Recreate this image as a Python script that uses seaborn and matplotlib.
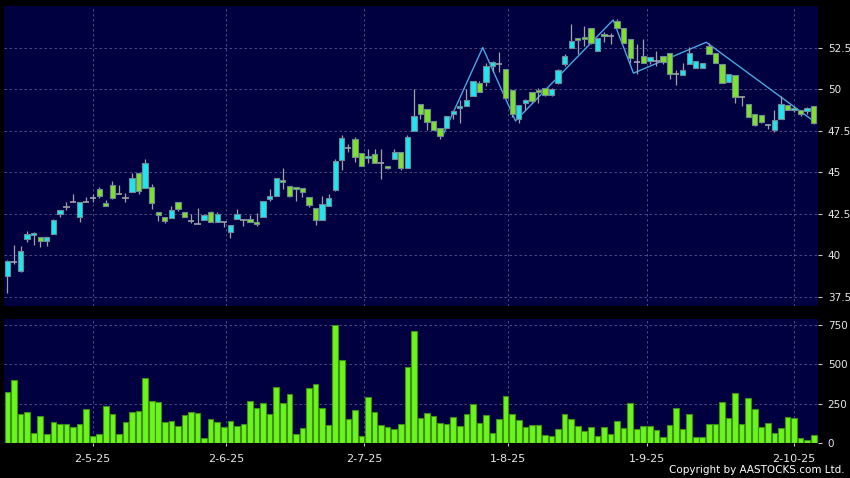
import numpy as np
import matplotlib
matplotlib.use("Agg")
import matplotlib.pyplot as plt
import seaborn as sns

# daily candles (index 0 = first session shown)
opens = [38.78, 39.62, 39.04, 41.00, 41.20, 41.08, 40.84, 41.30, 42.52, 42.92,
         43.22, 42.34, 43.22, 43.48, 44.02, 43.14, 44.22, 43.72, 43.44, 43.82,
         44.98, 44.06, 44.14, 42.64, 42.34, 42.26, 43.24, 42.64, 42.10, 41.92,
         42.12, 42.64, 42.02, 42.04, 41.42, 42.18, 42.12, 42.22, 42.04, 42.30,
         43.40, 43.58, 44.56, 44.20, 44.10, 44.06, 43.54, 42.88, 42.12, 43.00,
         43.96, 45.76, 46.48, 46.98, 46.16, 45.86, 46.10, 45.56, 45.36, 45.80,
         46.24, 45.28, 47.50, 49.12, 48.80, 48.08, 47.68, 47.68, 48.52, 48.86,
         49.00, 49.60, 50.38, 50.44, 51.42, 51.52, 51.22, 49.92, 48.18, 49.18,
         49.82, 49.92, 50.06, 49.66, 50.38, 51.52, 52.48, 53.06, 53.14, 53.68,
         52.32, 53.30, 53.22, 54.12, 53.66, 53.02, 51.62, 51.98, 51.68, 51.68,
         51.98, 52.18, 50.92, 50.88, 51.52, 51.28, 51.28, 52.62, 52.18, 51.52,
         50.42, 50.86, 49.52, 49.12, 48.52, 48.46, 47.82, 47.52, 48.22, 49.02,
         48.72, 48.72, 48.68, 48.98]
highs = [39.70, 40.60, 40.56, 41.46, 41.38, 41.10, 41.10, 42.18, 42.76, 43.22,
         43.68, 43.22, 43.50, 43.70, 44.10, 43.36, 44.46, 44.22, 43.78, 44.96,
         44.98, 45.82, 44.28, 42.64, 42.34, 42.96, 43.24, 42.64, 42.50, 42.84,
         42.52, 42.70, 42.60, 42.04, 41.86, 42.82, 42.22, 42.44, 42.58, 43.26,
         44.02, 44.68, 45.28, 44.20, 44.10, 44.06, 43.54, 42.88, 43.60, 43.70,
         45.80, 47.26, 46.72, 47.10, 46.16, 46.38, 46.38, 46.40, 45.36, 46.42,
         46.24, 47.26, 50.00, 49.12, 48.80, 48.08, 47.68, 48.40, 48.70, 49.32,
         50.02, 50.50, 50.50, 51.60, 51.70, 52.22, 51.22, 49.92, 49.06, 49.40,
         49.82, 50.08, 50.06, 50.04, 51.20, 52.10, 53.92, 53.10, 53.82, 53.68,
         53.10, 53.46, 53.40, 54.20, 53.66, 53.02, 52.72, 53.02, 51.92, 52.32,
         51.98, 52.18, 51.16, 51.56, 52.56, 51.70, 51.60, 52.76, 52.18, 51.52,
         50.92, 50.86, 49.60, 49.12, 48.52, 48.46, 47.92, 48.72, 49.60, 49.02,
         49.00, 48.72, 48.90, 48.98]
lows = [37.76, 39.50, 39.00, 40.82, 40.65, 40.52, 40.56, 41.30, 42.32, 42.72,
        43.22, 42.02, 43.22, 43.20, 43.48, 42.98, 43.40, 43.72, 43.20, 43.82,
        43.72, 44.06, 42.80, 42.08, 41.96, 42.26, 42.70, 42.32, 41.96, 41.92,
        42.12, 42.00, 42.02, 41.70, 41.02, 42.18, 41.76, 42.04, 41.80, 42.30,
        43.30, 43.58, 43.98, 43.50, 43.26, 43.54, 42.90, 41.86, 42.12, 43.00,
        43.90, 45.16, 46.22, 45.62, 45.40, 45.58, 45.56, 44.60, 45.20, 45.80,
        45.12, 45.28, 47.50, 48.20, 47.52, 47.52, 47.00, 47.68, 48.22, 47.96,
        49.00, 49.60, 49.80, 50.20, 51.02, 51.02, 49.48, 48.30, 47.95, 48.72,
        49.16, 49.16, 49.60, 49.56, 50.30, 51.40, 52.48, 52.12, 52.60, 52.70,
        52.32, 52.82, 52.72, 53.68, 52.78, 51.60, 50.92, 51.58, 51.50, 51.42,
        51.50, 50.62, 50.26, 50.88, 51.52, 51.28, 51.28, 52.12, 51.58, 50.38,
        50.42, 49.18, 49.00, 48.32, 47.80, 47.96, 47.60, 47.42, 48.22, 48.72,
        48.60, 48.40, 48.50, 47.90]
closes = [39.66, 39.60, 40.24, 41.26, 41.32, 40.84, 41.08, 42.12, 42.76, 42.92,
          43.22, 43.22, 43.22, 43.48, 43.58, 42.98, 43.46, 43.72, 43.44, 44.68,
          43.88, 45.58, 43.16, 42.44, 42.10, 42.72, 42.80, 42.32, 42.10, 41.92,
          42.46, 42.02, 42.52, 42.04, 41.86, 42.52, 42.12, 42.04, 41.90, 43.26,
          43.60, 44.68, 44.42, 43.60, 44.00, 43.84, 43.04, 42.12, 43.12, 43.44,
          45.66, 47.08, 46.48, 45.94, 45.40, 46.00, 45.56, 45.56, 45.26, 46.24,
          45.28, 47.12, 48.36, 48.50, 48.04, 47.52, 47.20, 48.40, 48.66, 48.96,
          49.36, 50.48, 49.80, 51.42, 51.62, 51.52, 49.48, 48.52, 49.06, 49.36,
          49.30, 49.80, 49.66, 50.02, 51.18, 52.02, 52.88, 52.96, 53.04, 52.78,
          53.08, 53.20, 53.22, 53.68, 52.78, 51.88, 51.62, 51.58, 51.92, 51.68,
          51.62, 50.92, 50.92, 51.16, 52.20, 51.68, 51.60, 52.12, 51.58, 50.38,
          50.92, 49.52, 49.52, 48.32, 47.86, 48.02, 47.82, 48.16, 49.08, 48.72,
          48.88, 48.52, 48.84, 47.98]
volume = [325, 404, 184, 199, 65, 171, 61, 135, 120, 120,
          106, 120, 218, 49, 61, 237, 186, 61, 135, 197,
          207, 414, 266, 260, 135, 144, 110, 177, 197, 194,
          36, 156, 137, 106, 142, 110, 120, 270, 222, 256,
          186, 359, 254, 313, 59, 97, 351, 378, 222, 116,
          750, 528, 156, 211, 49, 296, 201, 116, 104, 89,
          123, 482, 712, 163, 190, 173, 131, 123, 165, 110,
          184, 249, 131, 177, 63, 152, 302, 186, 148, 106,
          116, 116, 55, 46, 93, 184, 156, 110, 78, 106,
          49, 106, 57, 142, 99, 254, 91, 112, 112, 85,
          42, 116, 224, 93, 184, 42, 42, 120, 125, 264,
          163, 319, 120, 287, 216, 106, 131, 68, 97, 169,
          163, 32, 21, 51]

# zigzag turning points (session index, price)
zz_idx = [66.5, 72.5, 77.5, 92.4, 95.5, 106.6, 123.2]
zz_price = [47.3, 52.5, 48.09, 54.16, 50.96, 52.82, 48.02]

date_pos = [13, 33.3, 54.4, 76.4, 97.6, 120]
date_labels = ["2-5-25", "2-6-25", "2-7-25", "1-8-25", "1-9-25", "2-10-25"]
price_ticks = [37.5, 40, 42.5, 45, 47.5, 50, 52.5]
price_labels = ["37.5", "40", "42.5", "45", "47.5", "50", "52.5"]
vol_ticks = [0, 250, 500, 750]

BG = "#000040"
UP = "#1ee6f0"
DOWN = "#7ee22a"
EDGE = "#6f8a94"
WICK = "#a0a0a8"
GRID = "#56568c"
TXT = "#e8e8e8"

idx = np.arange(len(opens))
o = np.array(opens)
c = np.array(closes)

fig = plt.figure(figsize=(8.5, 4.78), dpi=100)
fig.patch.set_facecolor("black")
ax = fig.add_axes([4 / 850, 172 / 478, 814 / 850, 300 / 478])
axv = fig.add_axes([4 / 850, 34.7 / 478, 814 / 850, 124.3 / 478])

for a in (ax, axv):
    a.set_facecolor(BG)
    for s in a.spines.values():
        s.set_visible(False)
    a.grid(True, color=GRID, linestyle=(0, (3, 3)), linewidth=0.6)
    a.set_axisbelow(True)
    a.yaxis.tick_right()
    a.set_xlim(-0.53, 123.65)
    a.set_xticks(date_pos)
    a.tick_params(axis="y", colors="#c8c8c8", labelcolor=TXT, length=3,
                  width=0.8, pad=4, labelsize=7.5)

# zigzag behind the candles
sns.lineplot(x=zz_idx, y=zz_price, sort=False, color="#4aa6e6",
             linewidth=1.0, ax=ax, zorder=2)

# wicks
ax.vlines(idx, lows, highs, color=WICK, linewidth=0.9, zorder=3)

# bodies
doji = np.abs(c - o) < 0.03
body = ~doji
cols = np.where(c >= o, UP, DOWN)
ax.bar(idx[body], np.abs(c - o)[body], bottom=np.minimum(o, c)[body],
       width=0.82, color=cols[body], edgecolor=EDGE, linewidth=0.8, zorder=4)
ax.hlines(o[doji], idx[doji] - 0.48, idx[doji] + 0.48, color=WICK,
          linewidth=1.2, zorder=4)

ax.set_ylim(36.96, 55.0)
ax.set_yticks(price_ticks)
ax.set_yticklabels(price_labels)
ax.tick_params(axis="x", length=0, labelbottom=False)
ax.set_xlabel("")
ax.set_ylabel("")

# volume
sns.barplot(x=idx, y=volume, native_scale=True, color="#6cf51c",
            edgecolor="#3d8f16", linewidth=0.8, saturation=1, width=0.86,
            errorbar=None, ax=axv, zorder=3)
axv.set_xlim(-0.53, 123.65)
axv.set_ylim(0, 788)
axv.set_yticks(vol_ticks)
axv.set_yticklabels([str(v) for v in vol_ticks])
axv.set_xticks(date_pos)
axv.set_xticklabels(date_labels)
axv.tick_params(axis="x", colors="#c8c8c8", labelcolor=TXT, length=2.5,
                width=0.8, pad=5, labelsize=8)
axv.set_xlabel("")
axv.set_ylabel("")

fig.text(845 / 850, 5 / 478, "Copyright by AASTOCKS.com Ltd.", ha="right",
         va="baseline", color="white", fontsize=7.5)

fig.savefig("out.png", dpi=100, facecolor=fig.get_facecolor())
